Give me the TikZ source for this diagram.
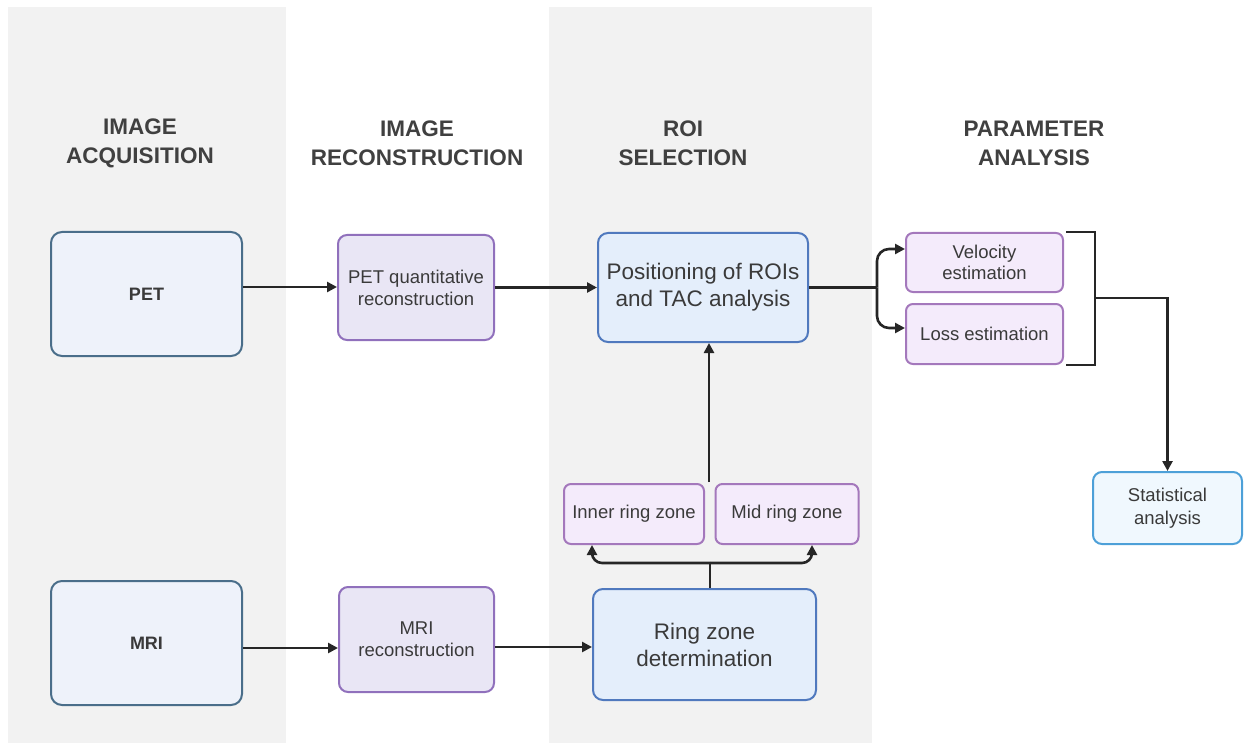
\documentclass[tikz,border=0pt]{standalone}
\usepackage{fontspec}
\setmainfont{Liberation Sans}
\usetikzlibrary{arrows.meta,calc}
\definecolor{bandgray}{HTML}{F2F2F2}
\definecolor{txt}{HTML}{3A3A3A}
\definecolor{hdr}{HTML}{404040}
\definecolor{lnk}{HTML}{262626}
\definecolor{srcfill}{HTML}{EEF2FA}
\definecolor{srcdraw}{HTML}{4A6E8A}
\definecolor{recfill}{HTML}{E9E6F5}
\definecolor{recdraw}{HTML}{9070BC}
\definecolor{roifill}{HTML}{E4EEFB}
\definecolor{roidraw}{HTML}{5079BE}
\definecolor{parfill}{HTML}{F4EBFB}
\definecolor{pardraw}{HTML}{A478BC}
\definecolor{statfill}{HTML}{F0F8FE}
\definecolor{statdraw}{HTML}{4DA0D8}
\tikzset{
  boxbase/.style={draw, line width=2pt, align=center, text=txt, inner sep=2pt},
  srcbox/.style={boxbase, fill=srcfill, draw=srcdraw, rounded corners=11pt,
    font=\bfseries\fontsize{18}{22}\selectfont},
  recbox/.style={boxbase, fill=recfill, draw=recdraw, rounded corners=9pt,
    font=\fontsize{18.5}{22}\selectfont},
  roibox/.style={boxbase, fill=roifill, draw=roidraw, rounded corners=10pt,
    font=\fontsize{22.5}{27}\selectfont},
  parbox/.style={boxbase, fill=parfill, draw=pardraw, rounded corners=7pt,
    font=\fontsize{18.5}{20.5}\selectfont},
  statbox/.style={boxbase, fill=statfill, draw=statdraw, rounded corners=9pt,
    font=\fontsize{18.5}{23}\selectfont},
  header/.style={align=center, text=hdr, font=\bfseries\fontsize{22.5}{29}\selectfont},
  link/.style={draw=lnk, line width=2.6pt},
  arr/.style={link, -{Triangle[length=10pt,width=10pt]}}
}
\begin{document}
\begin{tikzpicture}[x=1pt,y=-1pt]
\useasboundingbox (0,0) rectangle (1244,743);
\fill[bandgray] (8,7) rectangle (286,743);
\fill[bandgray] (549,7) rectangle (872,743);

% headers
\node[header] (h1) at (140,143) {IMAGE\\ACQUISITION};
\node[header] (h2) at (417,143) {IMAGE\\RECONSTRUCTION};
\node[header] (h3) at (683,143) {ROI\\SELECTION};
\node[header] (h4) at (1034,143) {PARAMETER\\ANALYSIS};

% boxes
\node[srcbox, minimum width=191pt, minimum height=124pt] (pet) at (146.5,294) {PET};
\node[srcbox, minimum width=191pt, minimum height=124pt] (mri) at (146.5,643) {MRI};
\node[recbox, minimum width=156pt, minimum height=105pt] (petrec) at (416,287.5) {PET quantitative\\reconstruction};
\node[recbox, minimum width=155pt, minimum height=105pt] (mrirec) at (416.5,639.5) {MRI\\reconstruction};
\node[roibox, minimum width=210pt, minimum height=109pt] (pos) at (703,287.5) {Positioning of ROIs\\and TAC analysis};
\node[roibox, minimum width=223pt, minimum height=111pt] (ring) at (704.5,644.5) {Ring zone\\determination};
\node[parbox, minimum width=140pt, minimum height=60pt] (inner) at (634,514) {Inner ring zone};
\node[parbox, minimum width=143pt, minimum height=60pt] (midr) at (787,514) {Mid ring zone};
\node[parbox, minimum width=157pt, minimum height=59pt] (vel) at (984.5,262.5) {Velocity\\estimation};
\node[parbox, minimum width=157pt, minimum height=60pt] (loss) at (984.5,334) {Loss estimation};
\node[statbox, minimum width=149pt, minimum height=72pt] (stat) at (1167.5,508) {Statistical\\analysis};

% connectors
\draw[arr] ([yshift=7pt]pet.east) -- ([yshift=7pt]pet.east -| petrec.west);
\draw[arr] (petrec.east) -- (petrec.east -| pos.west);
\draw[arr] ([yshift=-5pt]mri.east) -- ([yshift=-5pt]mri.east -| mrirec.west);
\draw[arr] ([yshift=-7.5pt]mrirec.east) -- ([yshift=-7.5pt]mrirec.east -| ring.west);

% ring zone to inner / mid
\coordinate (rj) at (710,563);
\draw[link] ([xshift=5.5pt]ring.north) -- (rj);
\draw[arr, rounded corners=10pt] (rj) -| ([xshift=-42pt]inner.south);
\draw[arr, rounded corners=10pt] (rj) -| ([xshift=25pt]midr.south);

% up to positioning
\coordinate (up) at (709,482);
\draw[arr] (up) -- (up |- pos.south);

% split to velocity / loss
\coordinate (sp) at (877,287.5);
\draw[link] (pos.east) -- (sp);
\draw[arr, rounded corners=12pt] (sp) |- ([yshift=13.5pt]vel.west);
\draw[arr, rounded corners=12pt] (sp) |- ([yshift=6pt]loss.west);

% bracket and statistical
\draw[link] ([xshift=2pt]vel.north east) -- ++(29,0) coordinate (bt) |- ([xshift=2pt]loss.south east);
\coordinate (bm) at (1095,298);
\draw[arr] (bm) -| (stat.north);
\end{tikzpicture}
\end{document}
